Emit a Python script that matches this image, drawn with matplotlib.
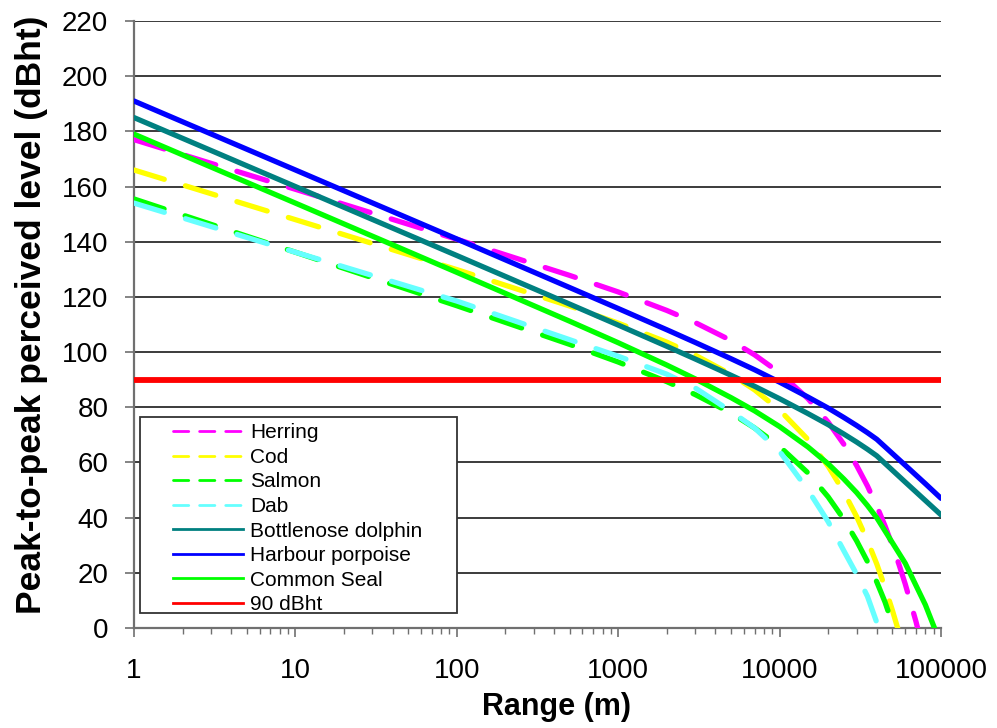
import numpy as np
import matplotlib
matplotlib.use("Agg")
import matplotlib.pyplot as plt
from matplotlib.lines import Line2D
from matplotlib.patches import Rectangle
from matplotlib.ticker import FixedLocator, FixedFormatter, LogLocator, NullFormatter

plt.rcParams['font.family'] = ['Liberation Sans', 'DejaVu Sans']

# Range grid (m) for the fish curves; each fish series is plotted over the
# first len(series) ranges of this grid.
range_fish = [1, 10, 100, 500, 1000, 2000, 3000, 5000, 7000, 10000, 15000,
              20000, 25000, 30000, 35000, 40000, 45000, 50000, 55000, 60000,
              70000, 80000]
herring = [177, 159, 140.9, 127.8, 121.8, 115.1, 110.7, 104.2, 99.0, 92.5,
           83.1, 74.6, 66.6, 58.9, 51.5, 44.2, 37.0, 29.9, 22.9, 16.0, 2.3, -11.2]
cod = [166, 148, 129.9, 116.7, 110.5, 103.6, 98.9, 91.9, 86.3, 79.0, 68.3,
       58.6, 49.3, 40.4, 31.7, 23.2, 14.7, 6.4, -1.8]
salmon = [155.5, 136.2, 116.8, 102.8, 96.4, 89.3, 84.6, 77.9, 72.5, 65.8,
          56.2, 47.5, 39.4, 31.6, 24.1, 16.7, 9.4, 1.5, -5.5]
dab = [154, 136.2, 118.5, 104.5, 98.5, 92.0, 87.0, 78.5, 72.5, 64.0, 50.0,
       38.5, 28.0, 19.5, 11.5, 2.0, -7.0]

# Range grid (m) for the marine mammal curves
range_mammal = [1, 10, 100, 500, 1000, 2000, 3000, 5000, 7000, 10000, 15000,
                20000, 25000, 30000, 35000, 40000, 60000, 80000, 100000]
bottlenose = [185, 160, 135, 117.4, 109.8, 102.1, 97.5, 91.6, 87.6, 83.1,
              77.7, 73.7, 70.3, 67.4, 64.8, 62.4, 52.9, 46.2, 41.0]
porpoise = [191, 166, 141, 123.4, 115.8, 108.1, 103.5, 97.6, 93.6, 89.1,
            83.7, 79.7, 76.3, 73.4, 70.8, 68.4, 59.0, 52.3, 47.0]
seal = [179, 154, 128.9, 111.2, 103.4, 95.3, 90.3, 83.5, 78.7, 73.0, 65.6,
        59.5, 54.0, 49.1, 44.4, 39.95, 23.5, 8.4, -6.0]

# 90 dBht behavioural threshold
threshold_range = [1, 100000]
threshold_level = [90, 90]

x_ticks = [1, 10, 100, 1000, 10000, 100000]
x_tick_labels = ["1", "10", "100", "1000", "10000", "100000"]
y_ticks = list(range(0, 221, 20))

series = [
    ("Herring", range_fish, herring, "#FF00FF", True),
    ("Cod", range_fish, cod, "#FFFF00", True),
    ("Salmon", range_fish, salmon, "#00FF00", True),
    ("Dab", range_fish, dab, "#66FFFF", True),
    ("Bottlenose dolphin", range_mammal, bottlenose, "#008080", False),
    ("Harbour porpoise", range_mammal, porpoise, "#0000FF", False),
    ("Common Seal", range_mammal, seal, "#00FF00", False),
]

fig = plt.figure(figsize=(9.97, 7.28), dpi=100)
ax = fig.add_axes([134 / 997, 100 / 728, 807 / 997, 607 / 728])

ax.set_xscale("log")
ax.set_xlim(1, 100000)
ax.set_ylim(0, 220)

LW = 3.8
handles = []
for name, xs, ys, color, dashed in series:
    xs = xs[:len(ys)]
    if dashed:
        ax.plot(xs, ys, color=color, lw=LW, linestyle=(0, (6.0, 4.2)),
                dash_capstyle="round", solid_joinstyle="round", zorder=3)
        handles.append(Line2D([], [], color=color, lw=2.0,
                              linestyle=(0, (5.5, 3.9)), dash_capstyle="round"))
    else:
        ax.plot(xs, ys, color=color, lw=LW, solid_capstyle="round",
                solid_joinstyle="round", zorder=3)
        handles.append(Line2D([], [], color=color, lw=2.0))

ax.plot(threshold_range, threshold_level, color="#FF0000", lw=4.2, zorder=4)
handles.append(Line2D([], [], color="#FF0000", lw=2.0))
labels = [s[0] for s in series] + ["90 dBht"]

# Horizontal gridlines
ax.yaxis.set_major_locator(FixedLocator(y_ticks))
ax.grid(axis="y", color="#1a1a1a", lw=1.2, zorder=1)
ax.set_axisbelow(True)

ax.xaxis.set_major_locator(FixedLocator(x_ticks))
ax.xaxis.set_major_formatter(FixedFormatter(x_tick_labels))
ax.xaxis.set_minor_locator(LogLocator(base=10, subs=np.arange(2, 10)))
ax.xaxis.set_minor_formatter(NullFormatter())

axis_grey = "#707070"
for side in ("top", "right"):
    ax.spines[side].set_visible(False)
for side in ("left", "bottom"):
    ax.spines[side].set_color(axis_grey)
    ax.spines[side].set_linewidth(1.6)

ax.tick_params(axis="both", which="major", direction="out", length=6.5,
               width=1.2, color=axis_grey, labelsize=20)
ax.tick_params(axis="x", which="minor", direction="out", length=4.2,
               width=1.0, color=axis_grey)
ax.tick_params(axis="y", pad=12)
ax.tick_params(axis="x", pad=15)

ax.set_xlabel("Range (m)", fontsize=22, fontweight="bold")
ax.xaxis.set_label_coords(0.524, -0.105)
ax.set_ylabel("Peak-to-peak perceived level (dBht)", fontsize=25.5,
              fontweight="bold")
ax.yaxis.set_label_coords(-0.106, 0.516)

# Legend frame
frame = Rectangle((0.0074, 0.025), 0.3926, 0.323, transform=ax.transAxes,
                  facecolor="white", edgecolor="#333333", lw=1.3, zorder=5)
ax.add_patch(frame)
leg = ax.legend(handles, labels, loc="upper left",
                bbox_to_anchor=(0.0483, 0.337), bbox_transform=ax.transAxes,
                frameon=False, fontsize=15, handlelength=3.36,
                handletextpad=0.35, labelspacing=0.265, borderpad=0,
                borderaxespad=0)
leg.set_zorder(6)

fig.savefig("out.png", dpi=100)
